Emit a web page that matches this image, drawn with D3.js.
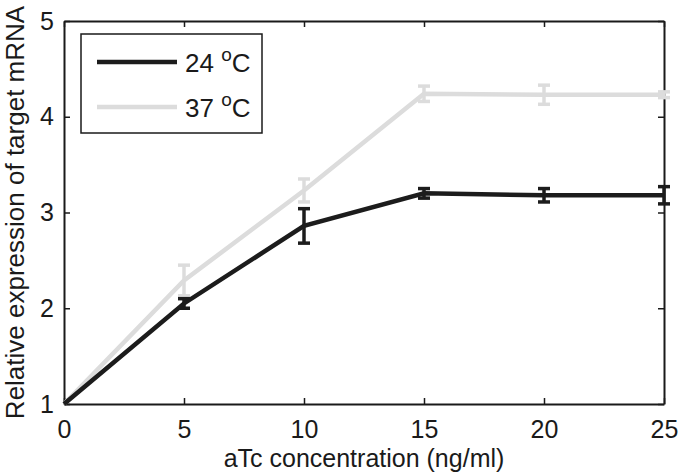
<!DOCTYPE html>
<html><head><meta charset="utf-8">
<script src="https://cdn.jsdelivr.net/npm/d3@7"></script>
<style>
body{margin:0;background:#fff;}
text{font-family:"Liberation Sans",Arial,Helvetica,sans-serif;fill:#1a1a1a;}
</style></head>
<body><svg id="c" width="679" height="474"></svg>
<script>
const concentrations = [0, 5, 10, 15, 20, 25];
const series24 = [1.0, 2.05, 2.86, 3.20, 3.18, 3.18];
const err24 = [0.0, 0.05, 0.18, 0.05, 0.07, 0.09];
const series37 = [1.0, 2.29, 3.23, 4.24, 4.23, 4.23];
const err37 = [0.0, 0.16, 0.12, 0.08, 0.1, 0.03];
const seriesNames = ["24", "37"];
const xTicks = [0, 5, 10, 15, 20, 25];
const yTicks = [1, 2, 3, 4, 5];

const svg = d3.select("#c");
const m = {l: 64, r: 15, t: 21, b: 70};
const W = 679, H = 474;
const x = d3.scaleLinear().domain([0, 25]).range([m.l, W - m.r]);
const y = d3.scaleLinear().domain([1, 5]).range([H - m.b, m.t]);
const ink = "#1a1a1a";
const FS = 26;

const gx = svg.append("g").attr("transform", `translate(0,${y(1)})`)
  .call(d3.axisBottom(x).tickValues(xTicks).tickFormat(d3.format("d")).tickSizeInner(-6).tickSizeOuter(0).tickPadding(16));
const gxt = svg.append("g").attr("transform", `translate(0,${y(5)})`)
  .call(d3.axisTop(x).tickValues(xTicks).tickSizeInner(-6).tickSizeOuter(0).tickFormat(""));
const gy = svg.append("g").attr("transform", `translate(${x(0)},0)`)
  .call(d3.axisLeft(y).tickValues(yTicks).tickFormat(d3.format("d")).tickSizeInner(-6).tickSizeOuter(0).tickPadding(10));
const gyr = svg.append("g").attr("transform", `translate(${x(25)},0)`)
  .call(d3.axisRight(y).tickValues(yTicks).tickSizeInner(-6).tickSizeOuter(0).tickFormat(""));
[gx, gxt, gy, gyr].forEach(g => {
  g.select(".domain").attr("stroke", ink).attr("stroke-width", 2);
  g.selectAll(".tick line").attr("stroke", ink).attr("stroke-width", 1.5);
  g.selectAll(".tick text").attr("font-size", 25).attr("fill", ink)
    .style("font-family", '"Liberation Sans",Arial,sans-serif');
});

const data = [
  {name: seriesNames[0], vals: series24, errs: err24, color: "#1c1c1c"},
  {name: seriesNames[1], vals: series37, errs: err37, color: "#dcdcdc"}
];
const line = d3.line().x((d, i) => x(concentrations[i])).y(d => y(d));
[data[1], data[0]].forEach(s => {
  const g = svg.append("g");
  g.append("path").attr("d", line(s.vals)).attr("fill", "none")
    .attr("stroke", s.color).attr("stroke-width", 4.5).attr("stroke-linejoin", "miter");
  s.vals.forEach((v, i) => {
    const e = s.errs[i];
    if (e <= 0) return;
    const cx = x(concentrations[i]);
    g.append("line").attr("x1", cx).attr("x2", cx).attr("y1", y(v - e)).attr("y2", y(v + e))
      .attr("stroke", s.color).attr("stroke-width", 3.5);
    [v - e, v + e].forEach(t => {
      g.append("line").attr("x1", cx - 6).attr("x2", cx + 6).attr("y1", y(t)).attr("y2", y(t))
        .attr("stroke", s.color).attr("stroke-width", 3.5);
    });
  });
});

const lg = svg.append("g");
lg.append("rect").attr("x", 81).attr("y", 34).attr("width", 181).attr("height", 99)
  .attr("fill", "#fff").attr("stroke", ink).attr("stroke-width", 1.5);
data.forEach((s, i) => {
  const ly = 62 + i * 45;
  lg.append("line").attr("x1", 97).attr("x2", 177).attr("y1", ly).attr("y2", ly)
    .attr("stroke", s.color).attr("stroke-width", 4.5);
  const t = lg.append("text").attr("x", 185).attr("y", ly + 10).attr("font-size", FS);
  t.append("tspan").text(s.name + " ");
  t.append("tspan").attr("dy", -11).attr("font-size", 19).text("o");
  t.append("tspan").attr("dy", 11).text("C");
});

svg.append("text").attr("x", (x(0) + x(25)) / 2).attr("y", 467).attr("text-anchor", "middle")
  .attr("font-size", 25).text("aTc concentration (ng/ml)");
svg.append("text").attr("transform", `translate(24,${(y(1) + y(5)) / 2}) rotate(-90)`)
  .attr("text-anchor", "middle").attr("font-size", FS).text("Relative expression of target mRNA");
</script></body></html>
